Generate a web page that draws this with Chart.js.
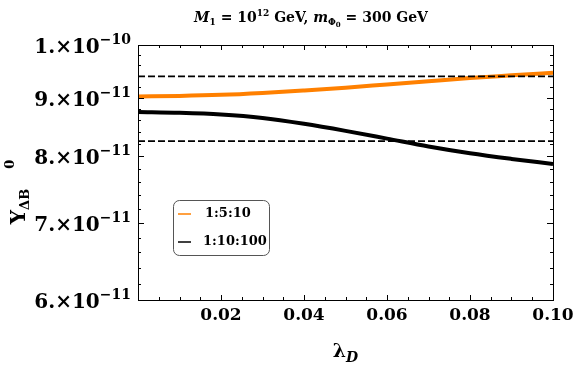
<!DOCTYPE html>
<html>
<head>
<meta charset="utf-8">
<script src="https://cdn.jsdelivr.net/npm/chart.js@4/dist/chart.umd.min.js"></script>
<style>
  html, body { margin: 0; padding: 0; background: #fff; }
  canvas { display: block; }
</style>
</head>
<body>
<canvas id="yieldChart" width="576" height="366"></canvas>
<script>
// values
const lambdaD = [0, 0.01, 0.02, 0.03, 0.04, 0.05, 0.06, 0.07, 0.08, 0.09, 0.10];
const yield_1_5_10 = [9.02e-11, 9.03e-11, 9.05e-11, 9.085e-11, 9.13e-11, 9.18e-11, 9.24e-11, 9.30e-11, 9.36e-11, 9.41e-11, 9.46e-11];
const yield_1_10_100 = [8.745e-11, 8.73e-11, 8.70e-11, 8.64e-11, 8.54e-11, 8.42e-11, 8.29e-11, 8.16e-11, 8.05e-11, 7.96e-11, 7.88e-11];
const dashUpper = 9.39e-11;
const dashLower = 8.25e-11;
const seriesLabels = ["1:5:10", "1:10:100"];

const xTicks = [0.02, 0.04, 0.06, 0.08, 0.10];
const xTickLabels = ["0.02", "0.04", "0.06", "0.08", "0.10"];
const yTicks = [6e-11, 7e-11, 8e-11, 9e-11, 1e-10];
const yTickMantissa = ["6.", "7.", "8.", "9.", "1."];
const yTickExponent = ["\u221211", "\u221211", "\u221211", "\u221211", "\u221210"];

const ORANGE = "#ff8000";
const SERIF = "'DejaVu Serif', 'Liberation Serif', serif";

// draws pieces of text one after another (for sub/superscripts)
function drawRuns(ctx, runs, x, y, align) {
    let total = 0;
    runs.forEach(r => {
        ctx.font = r.font;
        r.w = ctx.measureText(r.text).width + (r.gap || 0);
        total += r.w;
    });
    let cx = align === "center" ? x - total / 2 : align === "right" ? x - total : x;
    ctx.textAlign = "left";
    ctx.textBaseline = "alphabetic";
    runs.forEach(r => {
        ctx.font = r.font;
        ctx.fillText(r.text, cx, y + (r.dy || 0));
        cx += r.w;
    });
}

const framePlugin = {
    id: "frame",
    afterDraw(chart) {
        const ctx = chart.ctx;
        const xs = chart.scales.x, ys = chart.scales.y;
        const a = chart.chartArea;
        ctx.save();
        ctx.fillStyle = "#000";
        ctx.strokeStyle = "#000";
        ctx.lineWidth = 1;
        ctx.strokeRect(Math.round(a.left) + 0.5, Math.round(a.top) + 0.5,
            Math.round(a.right - a.left), Math.round(a.bottom - a.top));

        // x ticks, major and minor, bottom and top, pointing inwards
        ctx.beginPath();
        for (let i = 1; i < 20; i++) {
            const v = i * 0.005;
            const px = Math.round(xs.getPixelForValue(v)) + 0.5;
            const len = i % 4 === 0 ? 5 : 3;
            ctx.moveTo(px, a.bottom); ctx.lineTo(px, a.bottom - len);
            ctx.moveTo(px, a.top); ctx.lineTo(px, a.top + len);
        }
        // y ticks
        for (let m = 6; m < 10; m++) {
            for (let k = 0; k < 5; k++) {
                const v = (m + k * 0.2) * 1e-11;
                const py = Math.round(ys.getPixelForValue(v)) + 0.5;
                const len = k === 0 ? 6 : 3;
                ctx.moveTo(a.left, py); ctx.lineTo(a.left + len, py);
                ctx.moveTo(a.right, py); ctx.lineTo(a.right - len, py);
            }
        }
        ctx.stroke();

        // x tick labels
        ctx.font = "bold 17px " + SERIF;
        ctx.textAlign = "center";
        ctx.textBaseline = "middle";
        xTicks.forEach((v, i) => {
            ctx.fillText(xTickLabels[i], xs.getPixelForValue(v), 316);
        });

        // y tick labels  m.×10^e
        yTicks.forEach((v, i) => {
            const py = ys.getPixelForValue(v);
            drawRuns(ctx, [
                { text: yTickMantissa[i] + "\u00d710", font: "bold 20px " + SERIF },
                { text: yTickExponent[i], font: "bold 14px " + SERIF, dy: -9 }
            ], 131, py + 8, "right");
        });

        // title
        drawRuns(ctx, [
            { text: "M", font: "italic bold 14px " + SERIF },
            { text: "1", font: "bold 9px " + SERIF, dy: 3 },
            { text: " = 10", font: "bold 14px " + SERIF },
            { text: "12", font: "bold 9px " + SERIF, dy: -6 },
            { text: " GeV, ", font: "bold 14px " + SERIF },
            { text: "m", font: "italic bold 14px " + SERIF },
            { text: "\u03a6", font: "bold 9px " + SERIF, dy: 3 },
            { text: "0", font: "bold 7px " + SERIF, dy: 5 },
            { text: " = 300 GeV", font: "bold 14px " + SERIF }
        ], 311, 22, "center");

        // x axis title
        drawRuns(ctx, [
            { text: "\u03bb", font: "bold 19px " + SERIF },
            { text: "D", font: "italic bold 14px " + SERIF, dy: 5 }
        ], (a.left + a.right) / 2, 357, "center");

        // y axis title, rotated
        ctx.save();
        ctx.translate(25, 192);
        ctx.rotate(-Math.PI / 2);
        drawRuns(ctx, [
            { text: "Y", font: "bold 20px " + SERIF },
            { text: "\u0394B", font: "bold 13px " + SERIF, dy: 4, gap: 20 },
            { text: "0", font: "bold 13px " + SERIF, dy: -11 }
        ], 0, 0, "center");
        ctx.restore();

        // legend box
        const lx = 173.5, ly = 200.5, lw = 96, lh = 55;
        ctx.beginPath();
        ctx.roundRect(lx, ly, lw, lh, 6);
        ctx.fillStyle = "#fff";
        ctx.fill();
        ctx.strokeStyle = "#555";
        ctx.lineWidth = 1;
        ctx.stroke();
        const legendColors = [ORANGE, "#000"];
        seriesLabels.forEach((lab, i) => {
            const yy = 214 + i * 28;
            ctx.strokeStyle = legendColors[i];
            ctx.lineWidth = 1.5;
            ctx.beginPath();
            ctx.moveTo(178, yy); ctx.lineTo(191, yy);
            ctx.stroke();
            ctx.fillStyle = "#000";
            ctx.font = "bold 13px " + SERIF;
            ctx.textAlign = "left";
            ctx.textBaseline = "middle";
            ctx.fillText(lab, i === 0 ? 205 : 203, yy);
        });
        ctx.restore();
    }
};

new Chart(document.getElementById("yieldChart"), {
    type: "line",
    data: {
        datasets: [
            {
                label: seriesLabels[0],
                data: lambdaD.map((x, i) => ({ x, y: yield_1_5_10[i] })),
                borderColor: ORANGE,
                borderWidth: 4,
                pointRadius: 0,
                cubicInterpolationMode: "monotone",
                order: 2
            },
            {
                label: seriesLabels[1],
                data: lambdaD.map((x, i) => ({ x, y: yield_1_10_100[i] })),
                borderColor: "#000",
                borderWidth: 4,
                pointRadius: 0,
                cubicInterpolationMode: "monotone",
                order: 2
            },
            {
                label: "upper",
                data: [{ x: 0, y: dashUpper }, { x: 0.1, y: dashUpper }],
                borderColor: "#000",
                borderWidth: 1.8,
                borderDash: [7, 3],
                pointRadius: 0,
                order: 1
            },
            {
                label: "lower",
                data: [{ x: 0, y: dashLower }, { x: 0.1, y: dashLower }],
                borderColor: "#000",
                borderWidth: 1.8,
                borderDash: [7, 3],
                pointRadius: 0,
                order: 1
            }
        ]
    },
    options: {
        responsive: false,
        animation: false,
        devicePixelRatio: 1,
        layout: { padding: { left: 138, right: 23, top: 45, bottom: 66 } },
        scales: {
            x: { type: "linear", min: 0, max: 0.1, display: false },
            y: { type: "logarithmic", min: 6e-11, max: 1e-10, display: false }
        },
        plugins: {
            legend: { display: false },
            tooltip: { enabled: false }
        }
    },
    plugins: [framePlugin]
});
</script>
</body>
</html>
